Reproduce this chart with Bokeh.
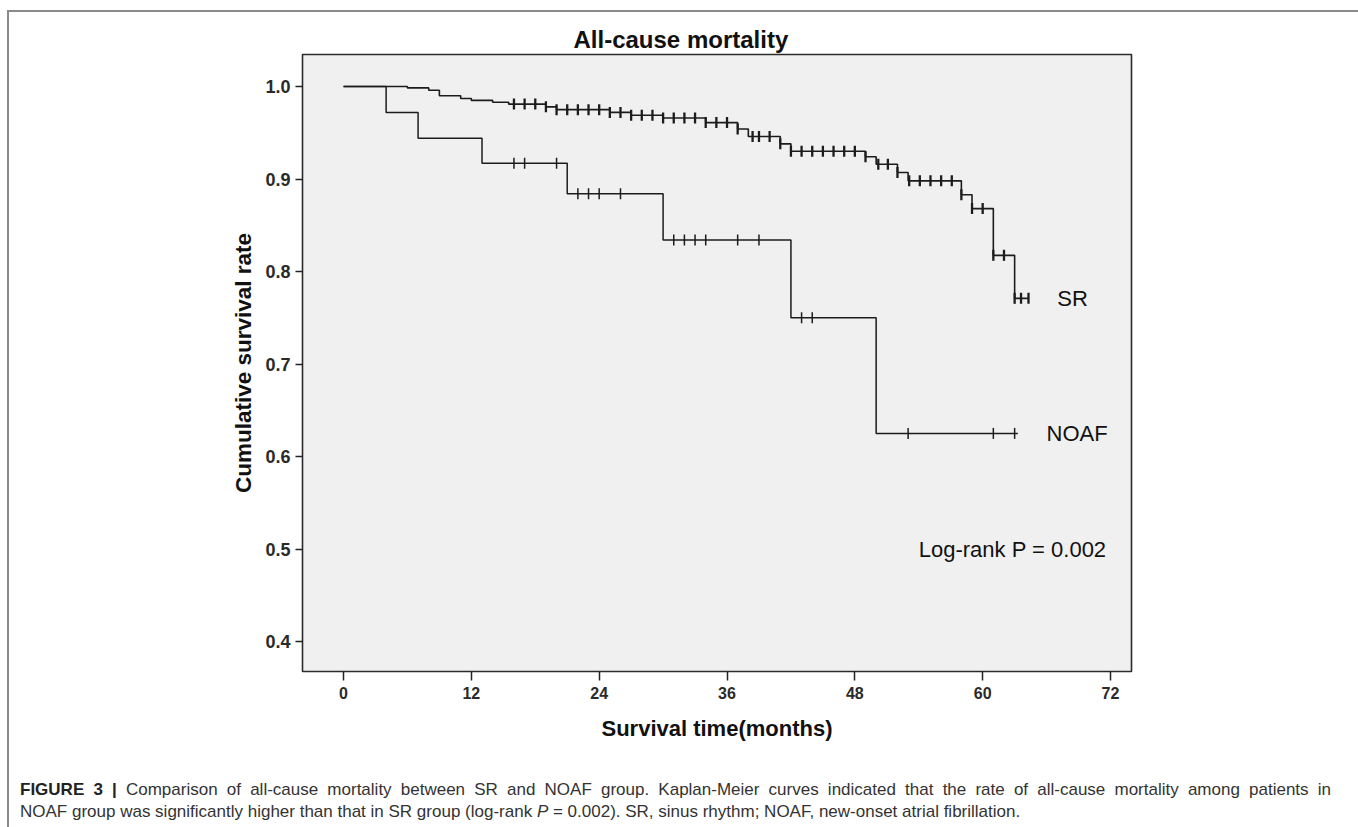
import numpy as np
from bokeh.plotting import figure
from bokeh.layouts import column
from bokeh.models import Range1d, FixedTicker, PrintfTickFormatter, Label, Div, Title
from bokeh.embed import file_html
from bokeh.resources import INLINE

# ---- data ----
sr_time = [0, 6, 8, 9, 11, 12, 14, 15.5, 19, 20, 25, 27, 30, 34, 37, 38, 41, 42, 49, 50, 52, 53, 58, 59, 61, 63, 64.3]
sr_surv = [1.0, 0.9985, 0.996, 0.990, 0.987, 0.985, 0.983, 0.981, 0.978, 0.975, 0.972, 0.969, 0.966, 0.961,
           0.954, 0.946, 0.938, 0.930, 0.924, 0.916, 0.907, 0.898, 0.883, 0.868, 0.8175, 0.771, 0.771]
sr_censor = [16, 17, 18, 19, 20, 21, 22, 23, 24, 25, 26, 27, 28, 29, 30, 31, 32, 33, 34, 35, 36, 37, 38.4, 39, 40,
             41, 42, 43, 44, 45, 46, 47, 48, 49, 50.2, 51.1, 52, 53.1, 54.1, 55.1, 56.1, 57.1, 58, 59, 60, 61, 62,
             63, 63.6, 64.3]

noaf_time = [0, 4, 7, 13, 21, 30, 42, 50, 63.3]
noaf_surv = [1.0, 0.972, 0.944, 0.917, 0.884, 0.834, 0.750, 0.625, 0.625]
noaf_censor = [16, 17, 20, 22, 23, 24, 26, 31, 32, 33, 34, 37, 39, 43, 44, 53, 61, 63]

x_ticks = [0, 12, 24, 36, 48, 60, 72]
y_ticks = [0.4, 0.5, 0.6, 0.7, 0.8, 0.9, 1.0]


def censor_y(times, surv, cens):
    t = np.asarray(times)
    s = np.asarray(surv)
    idx = np.searchsorted(t, np.asarray(cens), side="right") - 1
    return s[idx]


W, H = 1345, 758
p = figure(width=W, height=H, output_backend="svg", toolbar_location=None,
           x_range=Range1d(-3.85, 73.97), y_range=Range1d(0.3676, 1.0346),
           min_border_left=293, min_border_right=223, min_border_top=42, min_border_bottom=99)

p.title = Title(text="All-cause mortality", align="left", offset=271, standoff=3,
                text_font="Liberation Sans", text_font_style="bold", text_font_size="24px",
                text_color="#111111")

p.background_fill_color = "#f0f0f0"
p.border_fill_color = "white"
p.outline_line_color = "#2b2b2b"
p.outline_line_width = 1.6
p.grid.visible = False

LINE = "#1c1c1c"
p.step(sr_time, sr_surv, mode="after", line_color=LINE, line_width=1.6)
p.step(noaf_time, noaf_surv, mode="after", line_color=LINE, line_width=1.5)
p.scatter(sr_censor, censor_y(sr_time, sr_surv, sr_censor), marker="dash", angle=np.pi / 2,
          size=11, line_color=LINE, line_width=2.3)
p.scatter(noaf_censor, censor_y(noaf_time, noaf_surv, noaf_censor), marker="dash", angle=np.pi / 2,
          size=11, line_color=LINE, line_width=1.5)

# axes
for ax in (p.xaxis[0], p.yaxis[0]):
    ax.axis_line_color = None
    ax.major_tick_in = 0
    ax.major_tick_line_color = "#222222"
    ax.major_tick_line_width = 1.5
    ax.minor_tick_line_color = None
    ax.major_label_text_font = "Liberation Sans"
    ax.major_label_text_font_style = "bold"
    ax.major_label_text_color = "#2a2a2a"
    ax.axis_label_text_font = "Liberation Sans"
    ax.axis_label_text_font_style = "bold"
    ax.axis_label_text_font_size = "22px"
    ax.axis_label_text_color = "#111111"

p.xaxis[0].ticker = FixedTicker(ticks=x_ticks)
p.xaxis[0].major_label_text_font_size = "16px"
p.xaxis[0].major_tick_out = 9
p.xaxis[0].major_label_standoff = 6
p.xaxis[0].axis_label = "Survival time(months)"
p.xaxis[0].axis_label_standoff = 14

p.yaxis[0].ticker = FixedTicker(ticks=y_ticks)
p.yaxis[0].formatter = PrintfTickFormatter(format="%.1f")
p.yaxis[0].major_label_text_font_size = "18px"
p.yaxis[0].major_tick_out = 7
p.yaxis[0].major_label_standoff = 5
p.yaxis[0].axis_label = "Cumulative survival rate"
p.yaxis[0].axis_label_standoff = 6
p.yaxis[0].axis_label_text_font_size = "22.5px"

# in-plot annotations
TXT = "#111111"
p.add_layout(Label(x=67.0, y=0.771, text="SR", text_font="Liberation Sans", text_font_size="22px",
                   text_color=TXT, text_baseline="middle"))
p.add_layout(Label(x=66.0, y=0.625, text="NOAF", text_font="Liberation Sans", text_font_size="22px",
                   text_color=TXT, text_baseline="middle"))
p.add_layout(Label(x=54.0, y=0.5, text="Log-rank P = 0.002", text_font="Liberation Sans",
                   text_font_size="22px", text_color=TXT, text_baseline="middle"))

caption = Div(
    text=("<div style='width:1311px; text-align:justify; text-align-last:justify;'>"
          "<b style='color:#222'>FIGURE 3 |</b> Comparison of all-cause mortality between SR and NOAF group. "
          "Kaplan-Meier curves indicated that the rate of all-cause mortality among patients in</div>"
          "<div>NOAF group was significantly higher than that in SR group (log-rank <i>P</i> = 0.002). "
          "SR, sinus rhythm; NOAF, new-onset atrial fibrillation.</div>"),
    width=W, height=55,
    styles={"font-family": "'Liberation Sans', Arial, sans-serif", "font-size": "17px", "line-height": "22px",
            "color": "#333333", "white-space": "nowrap", "padding-left": "6px", "padding-top": "4px",
            "box-sizing": "border-box"},
)

layout = column(p, caption, spacing=0, margin=(10, 0, 0, 7),
                styles={"border-top": "2px solid #8a8a8a", "border-left": "2px solid #8a8a8a",
                        "border-right": "2px solid #8a8a8a"})

open("out.html", "w").write(file_html(layout, INLINE))
